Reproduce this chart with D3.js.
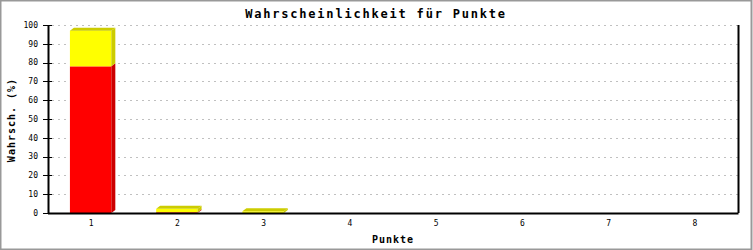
<!DOCTYPE html>
<html>
<head>
<meta charset="utf-8">
<script src="https://cdn.jsdelivr.net/npm/d3@7"></script>
<style>
  body { margin: 0; background: #fff; }
  text { font-family: "DejaVu Sans Mono", monospace; fill: #000; }
</style>
</head>
<body>
<div id="chart"></div>
<script>
// chart data
var categories = ["1", "2", "3", "4", "5", "6", "7", "8"];
var redValues = [78, 0.4, 0, 0, 0, 0, 0, 0];
var yellowValues = [19, 1.8, 0.9, 0, 0, 0, 0, 0];
var yTicks = [0, 10, 20, 30, 40, 50, 60, 70, 80, 90, 100];

var width = 753, height = 250;
var margin = { top: 25, right: 15, bottom: 37, left: 48 };
var depthX = 4, depthY = 3;

var svg = d3.select("#chart").append("svg")
  .attr("width", width)
  .attr("height", height);

// grey frame round the picture
svg.append("rect")
  .attr("x", 0.5).attr("y", 0.5)
  .attr("width", width - 2).attr("height", height - 1)
  .attr("fill", "#fff")
  .attr("stroke", "#999")
  .attr("stroke-width", 2);

var x = d3.scaleBand()
  .domain(categories)
  .range([margin.left, width - margin.right]);

var y = d3.scaleLinear()
  .domain([0, 100])
  .range([height - margin.bottom, margin.top]);

// dashed grid
svg.append("g")
  .selectAll("line")
  .data(yTicks.filter((d) => d > 0))
  .enter()
  .append("line")
  .attr("x1", margin.left + 4)
  .attr("x2", width - margin.right)
  .attr("y1", (d) => Math.round(y(d)) + 0.5)
  .attr("y2", (d) => Math.round(y(d)) + 0.5)
  .attr("stroke", "#c0c0c0")
  .attr("stroke-dasharray", "2,4");

// stacked 3d bars
var barW = x.bandwidth() * 0.48;
var data = categories.map((c, i) => ({
  cat: c,
  segs: [
    { lo: 0, hi: redValues[i], front: "#ff0000", dark: "#cc0000" },
    { lo: redValues[i], hi: redValues[i] + yellowValues[i], front: "#ffff00", dark: "#cccc00" },
  ],
}));

data.forEach((d) => {
  var x0 = x(d.cat) + (x.bandwidth() - barW) / 2 - 0.5;
  var x1 = x0 + barW;
  var g = svg.append("g");
  d.segs.forEach((s, k) => {
    if (s.hi - s.lo <= 0) return;
    var yt = y(s.hi), yb = y(s.lo);
    g.append("rect")
      .attr("x", x0).attr("y", yt)
      .attr("width", barW).attr("height", yb - yt)
      .attr("fill", s.front);
    g.append("polygon")
      .attr("points", [[x1, yt], [x1 + depthX, yt - depthY], [x1 + depthX, yb - depthY], [x1, yb]].join(" "))
      .attr("fill", s.dark);
    if (k === d.segs.length - 1 || d.segs[k + 1].hi - d.segs[k + 1].lo <= 0) {
      g.append("polygon")
        .attr("points", [[x0, yt], [x0 + depthX, yt - depthY], [x1 + depthX, yt - depthY], [x1, yt]].join(" "))
        .attr("fill", s.dark);
    }
  });
});

// axes lines
var plotBottom = height - margin.bottom;
svg.append("line")
  .attr("x1", margin.left).attr("x2", width - margin.right + 0.5)
  .attr("y1", plotBottom + 0.5).attr("y2", plotBottom + 0.5)
  .attr("stroke", "#000").attr("stroke-width", 2);
svg.append("line")
  .attr("x1", margin.left + 0.5).attr("x2", margin.left + 0.5)
  .attr("y1", margin.top).attr("y2", plotBottom)
  .attr("stroke", "#000").attr("stroke-width", 2);
svg.append("line")
  .attr("x1", width - margin.right + 0.5).attr("x2", width - margin.right + 0.5)
  .attr("y1", margin.top).attr("y2", plotBottom)
  .attr("stroke", "#000").attr("stroke-width", 2);

// y ticks and labels
var yt = svg.append("g").selectAll("g").data(yTicks).enter().append("g");
yt.append("line")
  .attr("x1", margin.left - 5).attr("x2", margin.left + 4)
  .attr("y1", (d) => Math.round(y(d)) + 0.5)
  .attr("y2", (d) => Math.round(y(d)) + 0.5)
  .attr("stroke", "#000");
yt.append("text")
  .attr("x", margin.left - 10)
  .attr("y", (d) => y(d))
  .attr("dy", "0.35em")
  .attr("text-anchor", "end")
  .attr("font-size", "8px")
  .text((d) => d);

// x labels
svg.append("g").selectAll("text")
  .data(categories).enter().append("text")
  .attr("x", (d) => x(d) + x.bandwidth() / 2)
  .attr("y", 226)
  .attr("text-anchor", "middle")
  .attr("font-size", "8px")
  .text((d) => d);

// titles
svg.append("text")
  .attr("x", 376).attr("y", 18)
  .attr("text-anchor", "middle")
  .attr("font-size", "12px")
  .attr("font-weight", "bold")
  .attr("letter-spacing", "1.8px")
  .text("Wahrscheinlichkeit für Punkte");

svg.append("text")
  .attr("x", 393).attr("y", 243)
  .attr("text-anchor", "middle")
  .attr("font-size", "10px")
  .attr("font-weight", "bold")
  .attr("letter-spacing", "1px")
  .text("Punkte");

svg.append("text")
  .attr("transform", "translate(15,120) rotate(-90)")
  .attr("text-anchor", "middle")
  .attr("font-size", "10px")
  .attr("font-weight", "bold")
  .attr("letter-spacing", "1px")
  .text("Wahrsch. (%)");
</script>
</body>
</html>
